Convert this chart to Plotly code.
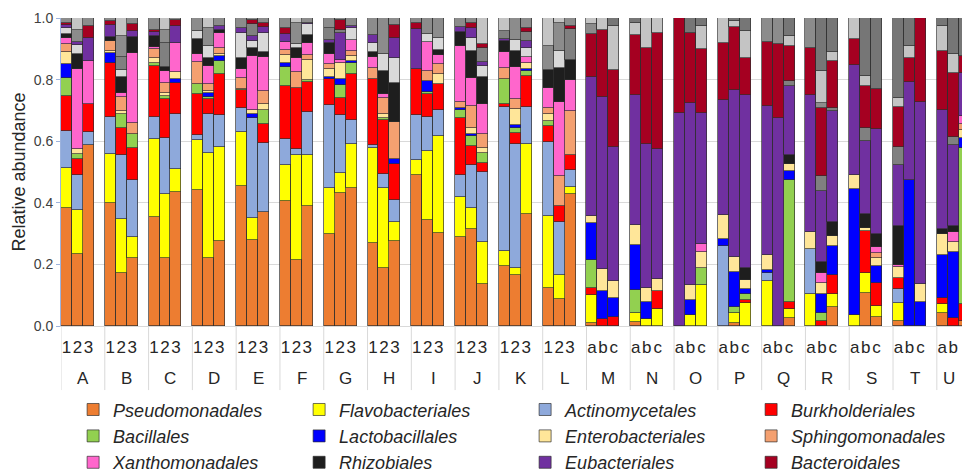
import plotly.graph_objects as go

groups = list("ABCDEFGHIJKLMNOPQRSTU")
subs_num = ["1", "2", "3"]
subs_let = ["a", "b", "c"]
n_numbered = 12  # groups A-L use 1,2,3 ; M-U use a,b,c

# segment heights per bar, bars ordered A1 A2 A3 B1 ... U3
pseudomonadales = [.384,.235,.587, .400,.171,.220, .355,.222,.435, .442,.222,.276, .455,.278,.370, .406,.213,.390, .298,.431,.449, .268,.189,.276, .490,.343,.303, .290,.314,.135, .195,.166,.365, .122,.087,.430, .011,0,0, .014,0,0, 0,0,0, 0,.011,0, 0,0,.027, 0,0,.062, 0,.108,.029, .016,0,0, .041,0,.016]
flavobacteriales = [.128,.141,0, .160,.177,.069, .251,.205,.076, .161,.341,.306, .176,.072,0, .117,.341,.165, .151,.067,.143, .311,.258,.063, .048,.225,.314, .129,.070,.138, .049,.021,.225, .235,.078,.021, .090,0,0, .029,.022,.056, 0,.036,.133, 0,.032,.074, .146,0,.027, .103,0,.043, .036,.063,.036, .060,0,0, .029,0,0]
actinomycetales = [.121,.113,.044, .119,.206,.185, .074,.182,.178, .017,.124,.103, .076,.326,.225, .083,.020,.140, .267,.187,.076, .008,.045,.069, .147,.111,.083, .070,.139,.228, .468,.403,.122, .240,.173,.054, 0,0,0, 0,0,0, 0,0,0, .260,0,0, .025,0,0, .146,0,0, 0,0,0, .045,0,0, 0,0,0]
burkholderiales = [.114,.054,.089, .176,.088,.103, .164,.127,.101, .134,.049,.132, .058,0,.060, .173,.200,.097, .085,.054,.149, .216,.177,.119, .148,.075,.087, .185,.061,.029, .010,.036,.100, .052,.052,.050, .023,.022,.029, 0,0,.058, 0,0,0, 0,0,.010, 0,0,.025, 0,.016,.060, 0,.137,.076, .036,0,0, .020,.027,.054]
bacillales = [.059,.017,0, 0,.045,.045, .011,.011,0, .033,.008,.043, .006,0,.045, .062,0,.008, 0,.043,.038, 0,.005,0, 0,.006,0, .026,.033,.033, .079,.016,.016, .017,0,0, .089,0,0, .074,0,0, 0,0,.056, 0,.020,.021, 0,0,.394, 0,.027,0, 0,0,0, 0,0,0, 0,0,.509]
lactobacillales = [.046,0,0, .032,0,0, 0,0,.013, 0,.014,.017, 0,.013,0, .014,0,0, .007,.019,.006, 0,0,.014, 0,.035,0, .009,.007,0, 0,.010,.005, 0,0,0, .120,.092,.063, .145,.057,0, 0,.048,0, .024,.112,.014, .011,0,.030, 0,.060,.095, .408,0,.054, 0,.474,.078, .139,.214,.032]
enterobacteriales = [.039,.014,0, .006,.011,0, .016,.011,.022, 0,.005,.005, 0,.012,.020, .025,0,.063, .027,.054,.016, 0,.013,0, 0,0,.030, 0,.018,.016, 0,.051,.022, .021,0,0, .024,.072,.054, .066,.045,.038, 0,.049,.052, .075,.049,.031, .047,0,.022, .057,.038,.032, .045,.011,.027, .035,0,.057, .071,.033,.024]
sphingomonadales = [.023,0,0, .032,.045,.036, .029,.032,0, .071,.024,.022, .035,0,.043, .015,.052,.016, .015,0,.016, .034,.052,.121, 0,.033,.033, .019,.072,.043, .036,.033,0, .020,.097,.143, 0,0,0, 0,0,0, 0,0,0, 0,0,0, 0,0,0, 0,0,0, 0,0,.016, 0,0,0, 0,0,.022]
xanthomonadales = [.020,.259,.140, 0,.015,.229, .006,.038,.095, .026,.057,.048, .027,.176,.110, .028,.045,.039, .032,.008,.036, .036,.015,0, 0,.095,.030, .181,.092,.100, .054,.106,.019, .065,.241,.100, 0,0,0, 0,0,0, 0,0,.026, 0,0,0, 0,0,0, 0,.032,0, 0,0,.018, .006,0,0, 0,.032,.025]
rhizobiales = [.014,.050,0, .013,.051,.051, .036,.012,0, .047,.027,.010, .038,.027,.016, 0,.032,.027, .038,0,0, .016,.073,.128, 0,0,.016, .046,.088,.087, .035,.050,0, .058,.110,.065, 0,0,0, 0,0,0, 0,0,0, 0,0,.039, 0,0,.030, 0,.036,.047, 0,.044,.044, .127,0,0, .014,.019,0]
other_light_low = [.018,.030,0, 0,.022,0, 0,0,0, .027,.038,0, .080,.022,.063, 0,.013,.035, 0,0,.040, .030,.057,.080, 0,.024,.040, 0,.041,.035, 0,.035,.030, 0,.054,0, 0,0,0, 0,0,0, 0,0,0, 0,0,0, 0,0,0, 0,0,0, 0,0,0, 0,0,0, 0,0,0]
eubacteriales = [.010,.008,.076, .039,0,.020, .012,0,.054, 0,0,.012, .015,.016,.020, .025,0,.005, .008,.087,.006, .027,0,.065, .130,0,0, .016,.032,.014, .006,0,.022, 0,0,0, .451,.559,.436, .421,.468,.422, .693,.590,.423, .375,.542,.560, .485,.676,.224, .444,.229,.359, .358,.238,.339, .197,.318,.593, .387,.262,.141]
other_grey_mid = [0,0,0, 0,.043,0, 0,.078,0, 0,0,0, 0,.040,0, 0,0,0, .040,.010,0, 0,0,0, 0,0,0, 0,0,.045, .025,0,.030, 0,0,.100, 0,0,0, 0,0,0, 0,0,0, 0,0,0, 0,0,.018, 0,.049,.011, 0,.041,0, .059,0,0, 0,.027,0]
bacteroidales = [.008,0,.038, .013,0,.021, .008,0,.018, 0,0,0, 0,.011,.012, .018,0,0, 0,.032,0, 0,0,.043, .022,0,0, 0,.016,.011, 0,0,.010, 0,0,.012, .139,.215,.249, .196,.312,.378, .307,.227,.208, .186,.205,.122, .209,.241,.112, .154,.220,.151, .086,.137,.132, .131,.079,.272, .192,.209,.054]
other_grey_top = [.016,.040,.026, .010,.068,.021, .038,.042,.008, .042,.060,.026, .034,.007,.016, .034,.069,.015, .032,.008,.025, .054,.116,.022, .015,.053,.064, .029,.017,0, 0,.073,.034, .080,.092,.025, .035,0,0, 0,0,0, 0,0,0, 0,0,0, .077,.083,0, .096,.018,0, 0,0,0, 0,0,0, 0,0,0]
other_light_top = [0,.039,0, 0,.058,0, 0,.040,0, 0,.031,0, 0,0,0, 0,.015,0, 0,0,0, 0,0,0, 0,0,0, 0,0,.086, .043,0,0, .090,.016,0, .018,.040,.143, .040,.096,.048, 0,0,.076, .080,.020,.087, 0,0,.033, 0,.103,.030, .067,.032,0, .029,.038,0, .081,.060,0]
other_dark_top = [0,0,0, 0,0,0, 0,0,0, 0,0,0, 0,0,0, 0,0,0, 0,0,0, 0,0,0, 0,0,0, 0,0,0, 0,0,0, 0,0,0, 0,0,.026, .015,0,0, 0,.050,.026, 0,.009,.042, 0,0,.058, 0,.172,.110, 0,.189,.229, .259,.091,0, .026,.117,.123]

series = [
    ("Pseudomonadales", pseudomonadales, "#ED7D31", True),
    ("Flavobacteriales", flavobacteriales, "#FFFF00", True),
    ("Actinomycetales", actinomycetales, "#8EA9DB", True),
    ("Burkholderiales", burkholderiales, "#FF0000", True),
    ("Bacillales", bacillales, "#92D050", True),
    ("Lactobacillales", lactobacillales, "#0000FF", True),
    ("Enterobacteriales", enterobacteriales, "#FFE699", True),
    ("Sphingomonadales", sphingomonadales, "#F4A070", True),
    ("Xanthomonadales", xanthomonadales, "#FF66CC", True),
    ("Rhizobiales", rhizobiales, "#1E1E1E", True),
    ("other1", other_light_low, "#D9D9D9", False),
    ("Eubacteriales", eubacteriales, "#7030A0", True),
    ("other2", other_grey_mid, "#808080", False),
    ("Bacteroidales", bacteroidales, "#A50021", True),
    ("other3", other_grey_top, "#8C8C8C", False),
    ("other4", other_light_top, "#C4C4C4", False),
    ("other5", other_dark_top, "#767676", False),
]

# Category layout: each group takes 4 slots (3 bars + an empty slot)
SLOTS = 4
X_RANGE = [-0.5, 81.8]
bar_pos, bar_lab = [], []
for gi, g in enumerate(groups):
    subs = subs_num if gi < n_numbered else subs_let
    for si, s in enumerate(subs):
        bar_pos.append(gi * SLOTS + si)
        bar_lab.append(s)

def clean(vals):
    return [v if v > 0 else None for v in vals]

fig = go.Figure()
for name, vals, color, show in series:
    fig.add_trace(go.Bar(
        x=bar_pos, y=clean(vals), name=name, showlegend=show,
        marker=dict(color=color, line=dict(color="rgba(45,45,45,0.85)", width=0.8)),
    ))

# group labels and dividers under the axis
div_bottom = -0.208
for gi, g in enumerate(groups):
    lo = gi * SLOTS - 0.5
    hi = min(lo + SLOTS, X_RANGE[1])
    fig.add_annotation(x=(lo + hi) / 2, y=-0.172, xref="x", yref="paper",
                       text=g, showarrow=False, yanchor="middle",
                       font=dict(size=17, color="#262626"))
for gi in range(len(groups) + 1):
    xv = gi * SLOTS - 0.5
    if xv <= X_RANGE[1]:
        fig.add_shape(type="line", xref="x", yref="paper", x0=xv, x1=xv,
                      y0=0, y1=div_bottom, line=dict(color="#D9D9D9", width=1))

fig.update_layout(
    width=962, height=472,
    margin=dict(l=61, r=0, t=18, b=146),
    barmode="stack", bargap=0,
    plot_bgcolor="white", paper_bgcolor="white",
    font=dict(family="Liberation Sans, Arial, sans-serif", color="#404040"),
    legend=dict(
        orientation="h", traceorder="normal",
        xref="container", yref="container",
        x=0.076, y=0.171, xanchor="left", yanchor="top",
        entrywidth=181, entrywidthmode="pixels",
        font=dict(size=18, style="italic", color="#262626"),
        itemwidth=30, tracegroupgap=0,
    ),
)
fig.update_xaxes(
    range=X_RANGE, tickmode="array", tickvals=bar_pos, ticktext=bar_lab, tickangle=0,
    ticklabelstandoff=6,
    tickfont=dict(size=17, color="#262626"),
    showline=True, linecolor="#D9D9D9", ticks="",
    showgrid=False, zeroline=False,
)
fig.update_yaxes(
    range=[0, 1], dtick=0.2, tickformat=".1f",
    showgrid=True, gridcolor="#D9D9D9", gridwidth=1,
    showline=True, linecolor="#9DB3DD", ticks="outside", ticklen=4, tickcolor="#9DB3DD",
    tickfont=dict(size=14, color="#404040"),
    title=dict(text="Relative abundance", font=dict(size=18, color="#262626"), standoff=3),
    zeroline=False,
)

fig.write_html("out.html")
